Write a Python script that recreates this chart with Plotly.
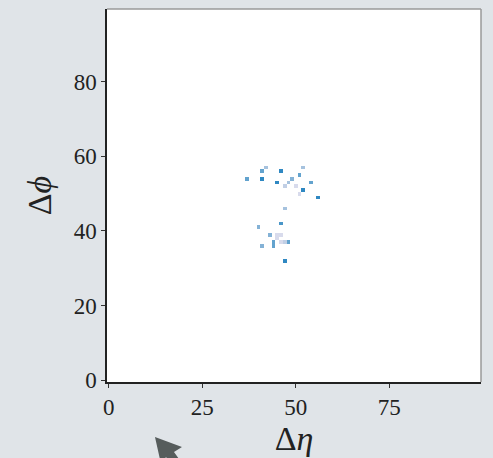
import plotly.graph_objects as go

# data: occupied cells (Δη index, Δφ index, intensity)
eta = [37, 41, 41, 42, 46, 45, 47, 48, 49, 50, 51, 52, 51, 52, 54, 56,
       47, 46, 40, 43, 45, 46, 45, 44, 44, 46, 47, 48, 41, 47]
phi = [54, 54, 56, 57, 56, 53, 52, 53, 54, 52, 55, 57, 50, 51, 53, 49,
       46, 42, 41, 39, 39, 39, 38, 37, 36, 37, 37, 37, 36, 32]
val = [3, 4, 3, 2, 4, 4, 1.5, 2, 2.5, 1, 3, 2, 1, 4, 3, 4,
       2, 3.5, 2.5, 2.5, 1, 1, 1, 3, 3, 1, 1.5, 3, 2.5, 4]
N = 100
x_ticks = [0, 25, 50, 75]
y_ticks = [0, 20, 40, 60, 80]

z = [[None] * N for _ in range(N)]
for e, p, v in zip(eta, phi, val):
    z[p][e] = v

fig = go.Figure(go.Heatmap(
    z=z, x=list(range(N)), y=list(range(N)),
    colorscale=[[0, '#e6e2f0'], [0.35, '#b0c6e0'], [0.7, '#62a3ce'], [1, '#2f88c2']],
    zmin=0.7, zmax=4, showscale=False, hoverongaps=False,
))

W, H = 493, 458
L, R, T, B = 107, 12, 9, 76
pw, ph = W - L - R, H - T - B

def px(xp, yp):
    return (xp - L) / pw, (H - B - yp) / ph

arrow_pts = [(155, 437), (182, 447), (174, 452), (187, 470), (179, 476), (166, 457), (161, 464)]
path = "M " + " L ".join(f"{px(a, b)[0]:.4f},{px(a, b)[1]:.4f}" for a, b in arrow_pts) + " Z"

font_fam = "Liberation Serif, Times New Roman, serif"
fig.update_layout(
    width=W, height=H,
    margin=dict(l=L, r=R, t=T, b=B, pad=0),
    paper_bgcolor='#e0e4e8', plot_bgcolor='white',
    font=dict(family=font_fam, color='#222', size=23),
    xaxis=dict(range=[-0.5, 99.5], tickvals=x_ticks, ticks='outside', ticklen=4,
               tickcolor='#333', showgrid=False, zeroline=False, showline=True,
               linecolor='#222', linewidth=1.5, tickfont=dict(size=23),
               title=dict(text='Δ<i>η</i>', font=dict(size=34), standoff=4)),
    yaxis=dict(range=[-0.5, 99.5], tickvals=y_ticks, ticks='outside', ticklen=4,
               tickcolor='#333', showgrid=False, zeroline=False, showline=True,
               linecolor='#222', linewidth=1.5, tickfont=dict(size=23),
               title=dict(text='Δ<i>ϕ</i>', font=dict(size=34), standoff=12)),
    shapes=[
        dict(type='line', xref='paper', yref='paper', x0=0, x1=1, y0=1, y1=1,
             line=dict(color='#9a9a9a', width=1.5)),
        dict(type='line', xref='paper', yref='paper', x0=1, x1=1, y0=0, y1=1,
             line=dict(color='#9a9a9a', width=1.5)),
        dict(type='path', xref='paper', yref='paper', path=path,
             fillcolor='#565c5c', line=dict(width=0)),
    ],
)
fig.write_html("out.html")
